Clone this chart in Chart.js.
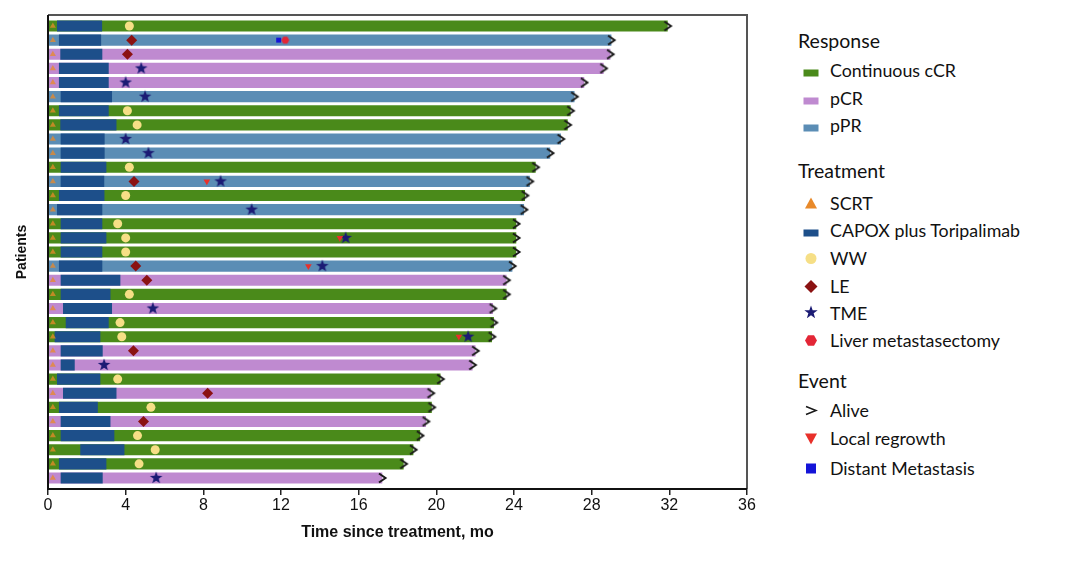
<!DOCTYPE html>
<html lang="en">
<head>
<meta charset="UTF-8">
<title>Swimmer plot</title>
<script src="https://cdn.jsdelivr.net/npm/chart.js@4.4.1/dist/chart.umd.min.js"></script>
<style>
  body { margin: 0; background: #fff; width: 1080px; height: 565px; overflow: hidden; position: relative; font-family: Lato, "Open Sans", sans-serif; }
  #wrap { position: absolute; left: 0; top: 0; width: 770px; height: 565px; }
  .lg { position: absolute; color: #111; white-space: nowrap; line-height: 1; transform: translateY(-50%); }
  .lg.h { font-size: 19.5px; }
  .lg.i { font-size: 17.8px; }
  .ic { position: absolute; transform: translate(-50%, -50%); }
</style>
</head>
<body>
<div id="wrap"><canvas id="swim" width="770" height="565"></canvas></div>
<div id="legend"></div>

<script>
// one entry per patient, top to bottom
const endTimes = [31.9, 29.0, 28.95, 28.6, 27.6, 27.1, 26.9, 26.75, 26.4, 25.85, 25.1,
                  24.8, 24.55, 24.5, 24.1, 24.1, 24.1, 23.9, 23.6, 23.6, 22.9, 22.95,
                  22.85, 22.0, 21.85, 20.2, 19.7, 19.75, 19.45, 19.15, 18.8, 18.3, 17.2];
const response = ['cCR','pPR','pCR','pCR','pCR','pPR','cCR','cCR','pPR','pPR','cCR',
                  'pPR','cCR','pPR','cCR','cCR','cCR','pPR','pCR','cCR','pCR','cCR',
                  'cCR','pCR','pCR','cCR','pCR','cCR','pCR','cCR','cCR','cCR','pCR'];
const capoxStart = [0.48, 0.58, 0.65, 0.58, 0.58, 0.67, 0.58, 0.65, 0.67, 0.67, 0.67,
                    0.67, 0.58, 0.48, 0.67, 0.67, 0.67, 0.58, 0.67, 0.67, 0.79, 0.93,
                    0.36, 0.67, 0.67, 0.48, 0.79, 0.58, 0.67, 0.67, 1.68, 0.58, 0.67];
const capoxEnd = [2.77, 2.72, 2.78, 3.11, 3.11, 3.28, 3.11, 3.51, 2.9, 2.9, 2.99,
                  2.88, 2.89, 2.78, 2.78, 2.99, 2.78, 2.78, 3.71, 3.2, 3.28, 3.11,
                  2.68, 2.8, 1.36, 2.68, 3.51, 2.55, 3.2, 3.4, 3.92, 2.99, 2.8];
const scrtTime = 0.25;

// events: [patient row, month]
const wwPoints = [[0,4.19],[6,4.09],[7,4.59],[10,4.19],[12,4.0],[14,3.59],[15,4.0],[16,4.0],
                  [19,4.19],[21,3.71],[22,3.8],[25,3.59],[27,5.3],[29,4.61],[30,5.52],[31,4.69]];
const lePoints = [[1,4.31],[2,4.09],[11,4.43],[17,4.52],[18,5.09],[23,4.4],[26,8.22],[28,4.92]];
const tmePoints = [[3,4.8],[4,4.0],[5,5.0],[8,4.0],[9,5.17],[11,8.89],[13,10.49],[15,15.33],
                   [17,14.13],[20,5.4],[22,21.64],[24,2.89],[32,5.57]];
const regrowthPoints = [[11,8.18],[15,15.03],[17,13.41],[22,21.16]];
const metastasisPoints = [[1,11.88]];
const liverPoints = [[1,12.22]];

const xTicks = [0, 4, 8, 12, 16, 20, 24, 28, 32, 36];

const C = {
  cCR: '#4a8a1a', pCR: '#bf8ad0', pPR: '#5b8db5', capox: '#1d4f8a',
  scrt: '#e8892a', ww: '#f6df86', le: '#8b1212', tme: '#1b1b74',
  regrowth: '#e8302a', meta: '#1414d8', liver: '#e32636', alive: '#1a1a1a'
};

function shape(w, h, draw) {
  const c = document.createElement('canvas');
  c.width = w; c.height = h;
  const g = c.getContext('2d');
  g.translate(w / 2, h / 2);
  draw(g);
  return c;
}
function starPath(g, R, r) {
  g.beginPath();
  for (let k = 0; k < 10; k++) {
    const a = -Math.PI / 2 + k * Math.PI / 5, rr = k % 2 ? r : R;
    g.lineTo(Math.cos(a) * rr, Math.sin(a) * rr);
  }
  g.closePath();
}
const starImg = shape(16, 16, g => { starPath(g, 6.6, 2.7); g.fillStyle = C.tme; g.fill(); });
const hexImg = shape(10, 10, g => {
  g.beginPath();
  for (let k = 0; k < 6; k++) g.lineTo(Math.cos(k * Math.PI / 3) * 4, Math.sin(k * Math.PI / 3) * 4);
  g.closePath(); g.fillStyle = C.liver; g.fill();
});
const aliveImg = shape(12, 12, g => {
  g.strokeStyle = C.alive; g.lineWidth = 2;
  g.beginPath(); g.moveTo(-3, -4.5); g.lineTo(3.5, 0); g.lineTo(-3, 4.5); g.stroke();
});

const rows = endTimes.map((_, i) => i);
const respBars = kind => rows.filter(i => response[i] === kind).map(i => ({ x: [0, endTimes[i]], y: i }));
const pts = arr => arr.map(([r, t]) => ({ x: t, y: r }));

function bar(label, data, color, order) {
  return { type: 'bar', label, data, backgroundColor: color, borderWidth: 0,
           barThickness: 10.5, grouped: false, order };
}
function marks(label, data, style, color, radius, extra) {
  return Object.assign({ type: 'scatter', label, data, pointStyle: style,
           backgroundColor: color, borderColor: color, borderWidth: 0,
           pointRadius: radius, order: 0 }, extra || {});
}

const frame = {
  id: 'frame',
  afterDraw(chart) {
    const { ctx, chartArea: a } = chart;
    ctx.save();
    ctx.lineWidth = 2;
    ctx.strokeStyle = '#555';
    ctx.beginPath(); ctx.moveTo(a.left, a.top); ctx.lineTo(a.right, a.top); ctx.lineTo(a.right, a.bottom); ctx.stroke();
    ctx.strokeStyle = '#111';
    ctx.beginPath(); ctx.moveTo(a.left, a.top); ctx.lineTo(a.left, a.bottom); ctx.lineTo(a.right, a.bottom); ctx.stroke();
    ctx.restore();
  }
};

new Chart(document.getElementById('swim'), {
  data: {
    datasets: [
      marks('Alive', pts(endTimes.map((t, i) => [i, t])), aliveImg, C.alive, 5),
      marks('Distant Metastasis', pts(metastasisPoints), 'rect', C.meta, 3.5),
      marks('Liver metastasectomy', pts(liverPoints), hexImg, C.liver, 4),
      marks('Local regrowth', pts(regrowthPoints), 'triangle', C.regrowth, 3.8, { rotation: 180 }),
      marks('TME', pts(tmePoints), starImg, C.tme, 6),
      marks('LE', pts(lePoints), 'rectRot', C.le, 5.5),
      marks('WW', pts(wwPoints), 'circle', C.ww, 4.5),
      marks('SCRT', pts(rows.map(i => [i, scrtTime])), 'triangle', 'rgba(232,137,42,0.75)', 3.5),
      bar('CAPOX plus Toripalimab', rows.map(i => ({ x: [capoxStart[i], capoxEnd[i]], y: i })), C.capox, 1),
      bar('Continuous cCR', respBars('cCR'), C.cCR, 2),
      bar('pCR', respBars('pCR'), C.pCR, 2),
      bar('pPR', respBars('pPR'), C.pPR, 2)
    ]
  },
  options: {
    indexAxis: 'y',
    responsive: false,
    animation: false,
    events: [],
    layout: { padding: { left: 0, top: 15, right: 23, bottom: 0 } },
    plugins: { legend: { display: false }, tooltip: { enabled: false } },
    scales: {
      x: {
        type: 'linear', min: 0, max: 36,
        afterBuildTicks: s => { s.ticks = xTicks.map(v => ({ value: v })); },
        afterFit: s => { s.height = 76; },
        ticks: { color: '#111', padding: 1, font: { family: '"Liberation Sans Narrow", "Liberation Sans", Arial', size: 16 } },
        grid: { display: true, drawOnChartArea: false, drawTicks: true, tickLength: 6, color: '#222', lineWidth: 1.5 },
        border: { display: false },
        title: { display: true, text: 'Time since treatment, mo', color: '#111',
                 font: { family: '"Liberation Sans", Arial', size: 16, weight: 'bold' },
                 padding: { top: 0, bottom: 23 } }
      },
      y: {
        type: 'linear', min: -0.78, max: 32.78, reverse: true, offset: false,
        afterFit: s => { s.width = 48; },
        ticks: { display: false },
        grid: { display: false, offset: false },
        border: { display: false },
        title: { display: true, text: 'Patients', color: '#111',
                 font: { family: '"Liberation Sans", Arial', size: 14, weight: 'bold' },
                 padding: { top: 14, bottom: 0 } }
      }
    }
  },
  plugins: [frame]
});

// legend on the right
const legendItems = [
  { t: 'Response', y: 41, head: true },
  { t: 'Continuous cCR', y: 71, icon: 'rect', color: C.cCR },
  { t: 'pCR', y: 99, icon: 'rect', color: C.pCR },
  { t: 'pPR', y: 126, icon: 'rect', color: C.pPR },
  { t: 'Treatment', y: 171, head: true },
  { t: 'SCRT', y: 204, icon: 'tri', color: C.scrt },
  { t: 'CAPOX plus Toripalimab', y: 231, icon: 'rect', color: C.capox },
  { t: 'WW', y: 259, icon: 'circle', color: C.ww },
  { t: 'LE', y: 287, icon: 'diamond', color: C.le },
  { t: 'TME', y: 314, icon: 'star', color: C.tme },
  { t: 'Liver metastasectomy', y: 341, icon: 'hex', color: C.liver },
  { t: 'Event', y: 381, head: true },
  { t: 'Alive', y: 411, icon: 'chev', color: C.alive },
  { t: 'Local regrowth', y: 439, icon: 'itri', color: C.regrowth },
  { t: 'Distant Metastasis', y: 469, icon: 'sq', color: C.meta }
];
function iconSvg(kind, color) {
  const s = (w, h, body) => `<svg width="${w}" height="${h}" viewBox="${-w/2} ${-h/2} ${w} ${h}">${body}</svg>`;
  switch (kind) {
    case 'rect': return s(16, 9, `<rect x="-7.5" y="-3.5" width="15" height="7" fill="${color}"/>`);
    case 'tri': return s(14, 14, `<polygon points="0,-6 6,5 -6,5" fill="${color}"/>`);
    case 'itri': return s(14, 14, `<polygon points="0,6 6,-5 -6,-5" fill="${color}"/>`);
    case 'circle': return s(14, 14, `<circle r="5.5" fill="${color}"/>`);
    case 'diamond': return s(14, 14, `<polygon points="0,-6.5 6.5,0 0,6.5 -6.5,0" fill="${color}"/>`);
    case 'sq': return s(14, 14, `<rect x="-5" y="-5" width="10" height="10" fill="${color}"/>`);
    case 'hex': {
      const p = [0,1,2,3,4,5].map(k => `${(Math.cos(k*Math.PI/3)*6).toFixed(2)},${(Math.sin(k*Math.PI/3)*6).toFixed(2)}`).join(' ');
      return s(14, 14, `<polygon points="${p}" fill="${color}"/>`);
    }
    case 'star': {
      const p = [];
      for (let k = 0; k < 10; k++) {
        const a = -Math.PI/2 + k*Math.PI/5, r = k % 2 ? 2.8 : 7;
        p.push(`${(Math.cos(a)*r).toFixed(2)},${(Math.sin(a)*r).toFixed(2)}`);
      }
      return s(16, 16, `<polygon points="${p.join(' ')}" fill="${color}"/>`);
    }
    case 'chev': return s(14, 14, `<polyline points="-5,-4 5,0 -5,4" fill="none" stroke="${color}" stroke-width="1.6"/>`);
  }
}
const legend = document.getElementById('legend');
legendItems.forEach(it => {
  const d = document.createElement('div');
  d.className = 'lg ' + (it.head ? 'h' : 'i');
  d.style.left = (it.head ? 798 : 830) + 'px';
  d.style.top = it.y + 'px';
  d.textContent = it.t;
  legend.appendChild(d);
  if (!it.head) {
    const ic = document.createElement('div');
    ic.className = 'ic';
    ic.style.left = '811px';
    ic.style.top = it.y + 'px';
    ic.innerHTML = iconSvg(it.icon, it.color);
    legend.appendChild(ic);
  }
});
</script>
</body>
</html>
